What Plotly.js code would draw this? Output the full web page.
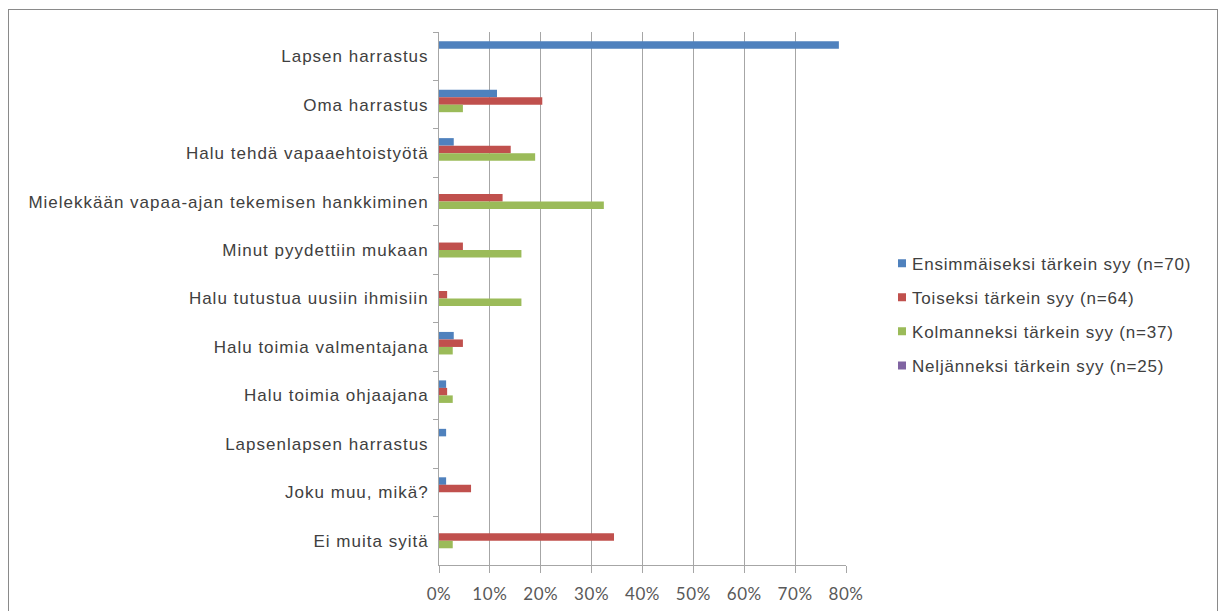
<!DOCTYPE html>
<html>
<head>
<meta charset="utf-8">
<script src="https://cdn.plot.ly/plotly-3.0.1.min.js"></script>
<style>
  html, body { margin: 0; padding: 0; background: #ffffff; }
  #wrap { position: relative; width: 1223px; height: 611px; overflow: hidden; }
  #frame { position: absolute; left: 8px; top: 9px; width: 1210px; height: 620px;
           border: 1px solid #8a8a8a; box-sizing: border-box; }
  #chart { position: absolute; left: 0; top: 0; width: 1223px; height: 611px; }
  .ytick text { letter-spacing: 1px; }
  .legendtext { letter-spacing: 0.8px; }
  .xtick text { letter-spacing: 0.6px; }
</style>
</head>
<body>
<div id="wrap">
  <div id="frame"></div>
  <div id="chart"></div>
</div>
<script>
// Reasons for volunteering, share of respondents (%) by rank of importance
const categories = [
  'Lapsen harrastus',
  'Oma harrastus',
  'Halu tehdä vapaaehtoistyötä',
  'Mielekkään vapaa-ajan tekemisen hankkiminen',
  'Minut pyydettiin mukaan',
  'Halu tutustua uusiin ihmisiin',
  'Halu toimia valmentajana',
  'Halu toimia ohjaajana',
  'Lapsenlapsen harrastus',
  'Joku muu, mikä?',
  'Ei muita syitä'
];

const seriesNames = [
  'Ensimmäiseksi tärkein syy (n=70)',
  'Toiseksi tärkein syy (n=64)',
  'Kolmanneksi tärkein syy (n=37)',
  'Neljänneksi tärkein syy (n=25)'
];

const firstReason  = [78.6, 11.4, 2.9, 0, 0, 0, 2.9, 1.4, 1.4, 1.4, 0];
const secondReason = [0, 20.3, 14.1, 12.5, 4.7, 1.6, 4.7, 1.6, 0, 6.3, 34.4];
const thirdReason  = [0, 4.7, 18.9, 32.4, 16.2, 16.2, 2.7, 2.7, 0, 0, 2.7];
const fourthReason = [0, 0, 0, 0, 0, 0, 0, 0, 0, 0, 0];

const xTickValues = [0, 10, 20, 30, 40, 50, 60, 70, 80];

const seriesColors = ['#4F81BD', '#C0504D', '#9BBB59', '#8064A2'];
const seriesValues = [firstReason, secondReason, thirdReason, fourthReason];

const traces = seriesValues.map((vals, i) => ({
  type: 'bar',
  orientation: 'h',
  name: seriesNames[i],
  legendgroup: 'g' + i,
  x: vals,
  y: categories,
  marker: { color: seriesColors[i], line: { width: 0 } },
  hoverinfo: 'x+y+name'
}));

const labelFont = { family: 'Liberation Sans, Arial, sans-serif', size: 17, color: '#404040' };

const layout = {
  width: 1223,
  height: 611,
  margin: { l: 439, r: 377, t: 31.5, b: 46, pad: 0 },
  paper_bgcolor: 'rgba(0,0,0,0)',
  plot_bgcolor: '#ffffff',
  barmode: 'group',
  bargap: 0.38,
  bargroupgap: 0,
  showlegend: true,
  legend: {
    xref: 'container', yref: 'container',
    x: 0.713, y: 0.598,
    xanchor: 'left', yanchor: 'top',
    font: labelFont,
    tracegroupgap: 9,
    bgcolor: 'rgba(0,0,0,0)'
  },
  xaxis: {
    range: [0, 80],
    tickvals: xTickValues,
    ticktext: xTickValues.map(v => v + '%'),
    showgrid: true,
    gridcolor: '#a6a6a6',
    gridwidth: 1,
    zeroline: false,
    showline: true,
    linecolor: '#a6a6a6',
    linewidth: 1,
    ticks: 'outside',
    ticklen: 7,
    tickcolor: '#a6a6a6',
    tickfont: { family: 'Lato, Carlito, sans-serif', size: 17, color: '#595959' },
    ticklabelstandoff: 7,
    fixedrange: true
  },
  yaxis: {
    type: 'category',
    autorange: 'reversed',
    automargin: false,
    showgrid: false,
    zeroline: false,
    showline: true,
    linecolor: '#a6a6a6',
    linewidth: 1,
    ticks: 'outside',
    tickson: 'boundaries',
    ticklen: 5,
    tickcolor: '#a6a6a6',
    tickfont: labelFont,
    ticklabelstandoff: 6,
    fixedrange: true
  }
};

Plotly.newPlot('chart', traces, layout, { displayModeBar: false, staticPlot: true }).then(() => {
  // smaller square swatches with a small gap before the legend text
  document.querySelectorAll('.legend .legendpoints path').forEach(p => {
    p.setAttribute('d', 'M6,-4H14V4H6Z');
  });
});
</script>
</body>
</html>
